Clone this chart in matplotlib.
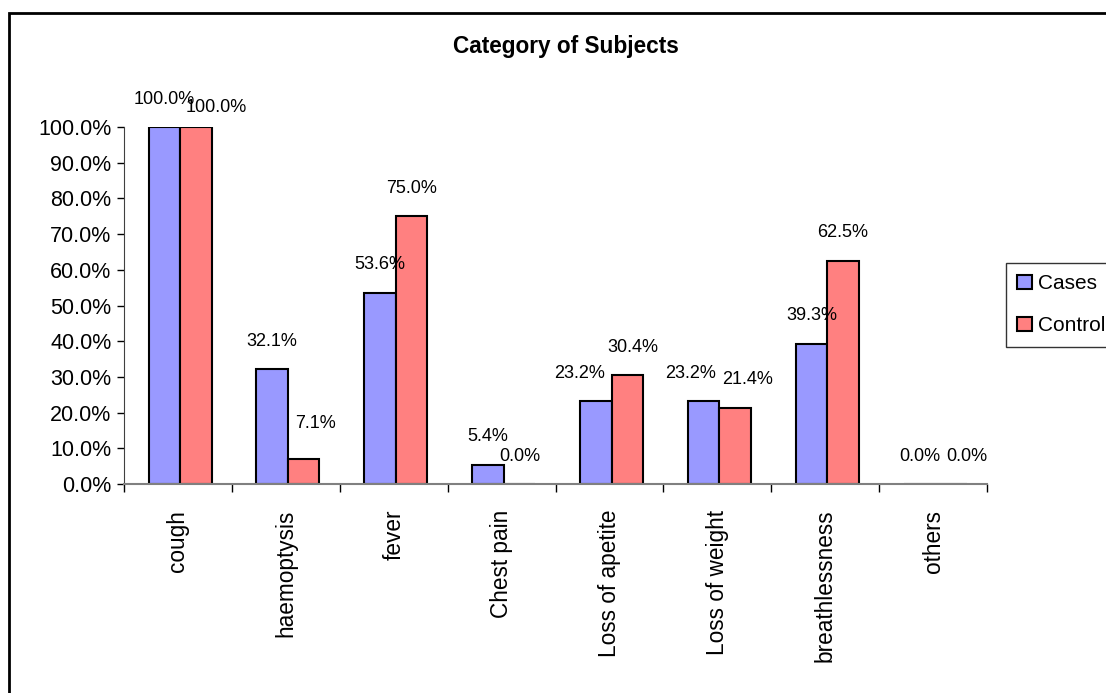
import matplotlib.pyplot as plt
from matplotlib.patches import Rectangle
import numpy as np

categories = ['cough', 'haemoptysis', 'fever', 'Chest pain', 'Loss of apetite',
              'Loss of weight', 'breathlessness', 'others']
cases = [100.0, 32.1, 53.6, 5.4, 23.2, 23.2, 39.3, 0.0]
control = [100.0, 7.1, 75.0, 0.0, 30.4, 21.4, 62.5, 0.0]

plt.rcParams['font.family'] = ['Liberation Sans', 'DejaVu Sans']

W, H = 1106, 693
fig = plt.figure(figsize=(W / 100, H / 100), dpi=100)
ax = fig.add_axes([124 / W, 1 - 484 / H, (987 - 124) / W, (484 - 127) / H])

x = np.arange(len(categories))
bw = 0.292
b1 = ax.bar(x - bw / 2 + 0.02, cases, bw, color='#9999FF', edgecolor='black', linewidth=1.5, label='Cases')
b2 = ax.bar(x + bw / 2 + 0.02, control, bw, color='#FF8080', edgecolor='black', linewidth=1.5, label='Control')

# small shifts (px) where excel moved labels apart
nudge = {(0, 1): (20, -8), (1, 1): (12, 7), (4, 0): (-16, 0), (4, 1): (5, 0),
         (5, 0): (-13, 0), (5, 1): (12, 0), (7, 1): (16, 0)}
for s, vals in enumerate([cases, control]):
    for i, v in enumerate(vals):
        dx, dy = nudge.get((i, s), (0, 0))
        xc = x[i] + (s - 0.5) * bw + 0.02
        ax.annotate(f'{v:.1f}%', (xc, v), xytext=(dx * 0.72, 14 + dy * 0.72),
                    textcoords='offset points', ha='center', va='bottom', fontsize=13)

ax.set_xlim(-0.5, len(categories) - 0.5)
ax.set_ylim(0, 100)
ax.set_yticks(np.arange(0, 101, 10))
ax.set_yticklabels([f'{t:.1f}%' for t in np.arange(0, 101, 10)], fontsize=15.5)
ax.set_xticks(x)
ax.set_xticklabels(categories, rotation=90, fontsize=16.3, va='top')
ax.set_xticks(np.arange(-0.5, len(categories)), minor=True)
ax.tick_params(axis='x', which='major', length=0, pad=18.5)
ax.tick_params(axis='x', which='minor', length=6, color='black', width=1)
ax.tick_params(axis='y', length=5, color='black', width=1, pad=4)

for side in ['top', 'right']:
    ax.spines[side].set_visible(False)
ax.spines['left'].set_color('#404040')
ax.spines['bottom'].set_color('#808080')
ax.spines['bottom'].set_linewidth(1.5)

fig.text(566 / W, 1 - 46 / H, 'Category of Subjects', ha='center', va='center',
         fontsize=16.3, fontweight='bold')

leg = fig.legend(handles=[b1, b2], loc='upper left', bbox_to_anchor=(1006 / W, 1 - 263 / H),
                 bbox_transform=fig.transFigure, frameon=True, fancybox=False, fontsize=15,
                 handlelength=0.7, handleheight=0.7, handletextpad=0.3, borderaxespad=0,
                 labelspacing=1.1, borderpad=0.55)
leg.get_frame().set_edgecolor('black')
leg.get_frame().set_linewidth(1)

fig.patches.append(Rectangle((9 / W, -0.1), 2, 1 - 13 / H + 0.1, transform=fig.transFigure,
                             fill=False, edgecolor='black', linewidth=2, clip_on=False))

fig.savefig('out.png', dpi=100)
